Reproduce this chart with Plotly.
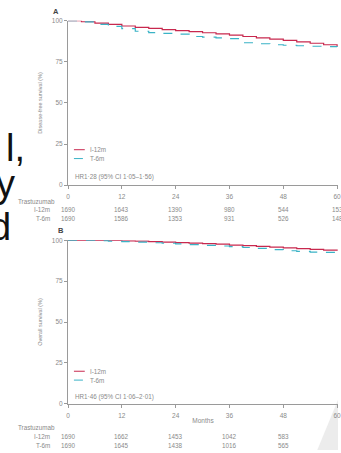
import plotly.graph_objects as go

W, H = 341, 453

# ---------------- data ----------------
# Panel A: disease-free survival (%)
dfs_i12_months = [0, 3, 6, 9, 12, 15, 18, 21, 24, 27, 30, 33, 36, 39, 42, 45, 48, 51, 54, 57, 60]
dfs_i12 = [100, 99.4, 98.6, 97.8, 96.8, 96.0, 95.3, 94.6, 94.0, 93.4, 92.7, 92.0, 91.2, 90.4, 89.6,
           88.8, 88.0, 87.2, 86.3, 85.4, 84.4]
dfs_t6_months = [0, 3, 6, 9, 12, 15, 18, 21, 24, 27, 30, 33, 36, 38, 39, 42, 45, 48, 51, 54, 57, 60]
dfs_t6 = [100, 99.3, 97.8, 96.6, 95.2, 93.6, 92.8, 92.3, 91.8, 90.4, 90.0, 89.6, 89.1, 87.8, 86.6,
          86.0, 85.4, 85.1, 84.8, 84.5, 84.2, 84.0]

# Panel B: overall survival (%)
os_months = [0, 6, 9, 12, 15, 18, 21, 24, 27, 30, 33, 36, 39, 42, 45, 48, 51, 54, 57, 60]
os_i12 = [100, 100, 99.9, 99.7, 99.5, 99.2, 98.9, 98.6, 98.3, 98.0, 97.6, 97.1, 96.7, 96.3, 95.8,
          95.3, 94.9, 94.5, 94.0, 93.6]
os_t6 = [100, 99.8, 99.5, 99.2, 98.9, 98.5, 98.2, 97.8, 97.4, 96.9, 96.5, 96.1, 95.6, 95.0, 94.3,
         93.6, 93.2, 92.8, 92.6, 92.5]

# numbers at risk
dfs_risk_months = [0, 12, 24, 36, 48, 60]
dfs_risk_i12 = ["1690", "1643", "1390", "980", "544", "153"]
dfs_risk_t6 = ["1690", "1586", "1353", "931", "526", "148"]
os_risk_months = [0, 12, 24, 36, 48]
os_risk_i12 = ["1690", "1662", "1453", "1042", "583"]
os_risk_t6 = ["1690", "1645", "1438", "1016", "565"]

series_names = ["I-12m", "T-6m"]
y_ticks = [0, 25, 50, 75, 100]
x_ticks = [0, 12, 24, 36, 48, 60]
hr_texts = ["HR1·28 (95% CI 1·05–1·56)", "HR1·46 (95% CI 1·06–2·01)"]
ytitles = ["Disease-free survival (%)", "Overall survival (%)"]

# ---------------- styling ----------------
RED = "#c8284e"
TEAL = "#3ab3c6"
GREY = "#8a8a8a"
FONT = "Liberation Sans"


def px(x):
    return x / W


def py(y):
    return 1 - y / H


fig = go.Figure()

fig.add_trace(go.Scatter(x=dfs_i12_months, y=dfs_i12, mode="lines", line_shape="hv",
                         line=dict(color=RED, width=1.2), xaxis="x", yaxis="y", name=series_names[0]))
fig.add_trace(go.Scatter(x=dfs_t6_months, y=dfs_t6, mode="lines", line_shape="hv",
                         line=dict(color=TEAL, width=1.2, dash="dash"), xaxis="x", yaxis="y",
                         name=series_names[1]))
fig.add_trace(go.Scatter(x=os_months, y=os_i12, mode="lines", line_shape="hv",
                         line=dict(color=RED, width=1.2), xaxis="x2", yaxis="y2", name=series_names[0]))
fig.add_trace(go.Scatter(x=os_months, y=os_t6, mode="lines", line_shape="hv",
                         line=dict(color=TEAL, width=1.2, dash="dash"), xaxis="x2", yaxis="y2",
                         name=series_names[1]))

axis_common = dict(showline=True, linecolor="#9a9a9a", linewidth=1, showgrid=False, zeroline=False,
                   ticks="outside", ticklen=3, tickcolor="#9a9a9a", tickwidth=1,
                   tickfont=dict(family=FONT, size=6.5, color=GREY))

xdom = [px(67), 1.0]
fig.update_layout(
    width=W, height=H,
    margin=dict(l=0, r=0, t=0, b=0),
    paper_bgcolor="white", plot_bgcolor="white",
    showlegend=False,
    xaxis=dict(domain=xdom, range=[0, 60.2], tickvals=x_ticks, anchor="y",
               ticklabeloverflow="allow", ticklabelstandoff=2, **axis_common),
    yaxis=dict(domain=[py(184), py(17)], range=[0, 100], tickvals=y_ticks, anchor="x",
               title=dict(text=ytitles[0], font=dict(family=FONT, size=5.5, color=GREY), standoff=8),
               **axis_common),
    xaxis2=dict(domain=xdom, range=[0, 60.2], tickvals=x_ticks, anchor="y2",
                ticklabeloverflow="allow", ticklabelstandoff=2,
                title=dict(text="Months", font=dict(family=FONT, size=6.5, color=GREY), standoff=0),
                **axis_common),
    yaxis2=dict(domain=[py(406), py(240)], range=[0, 100], tickvals=y_ticks, anchor="x2",
                title=dict(text=ytitles[1], font=dict(family=FONT, size=5.5, color=GREY), standoff=8),
                **axis_common),
)

ann = []
shapes = []
small = dict(family=FONT, size=6.3, color=GREY)

# panel letters
ann.append(dict(text="<b>A</b>", x=px(55), y=py(8), xref="paper", yref="paper", showarrow=False,
                xanchor="center", yanchor="middle", font=dict(family=FONT, size=7.5, color="#444")))
ann.append(dict(text="<b>B</b>", x=px(60), y=py(230), xref="paper", yref="paper", showarrow=False,
                xanchor="center", yanchor="middle", font=dict(family=FONT, size=7.5, color="#444")))

panels = [
    dict(xr="x", yr="y", leg_y=[148, 157], hr_y=176, rows=[201, 209, 218],
         rm=dfs_risk_months, r1=dfs_risk_i12, r2=dfs_risk_t6, hr=hr_texts[0]),
    dict(xr="x2", yr="y2", leg_y=[373, 382], hr_y=399, rows=[430, 439, 448],
         rm=os_risk_months, r1=os_risk_i12, r2=os_risk_t6, hr=hr_texts[1]),
]

for p in panels:
    # legend (manual, compact)
    for name, col, dash, ly in zip(series_names, [RED, TEAL], ["solid", "dash"], p["leg_y"]):
        shapes.append(dict(type="line", xref="paper", yref="paper", x0=px(73), x1=px(84),
                           y0=py(ly), y1=py(ly), line=dict(color=col, width=1, dash=dash)))
        ann.append(dict(text=name, x=px(87), y=py(ly), xref="paper", yref="paper", showarrow=False,
                        xanchor="left", yanchor="middle", font=small))
    ann.append(dict(text=p["hr"], x=px(72), y=py(p["hr_y"]), xref="paper", yref="paper",
                    showarrow=False, xanchor="left", yanchor="middle", font=small))
    # numbers at risk
    ann.append(dict(text="Trastuzumab", x=px(14), y=py(p["rows"][0]), xref="paper", yref="paper",
                    showarrow=False, xanchor="left", yanchor="middle", font=small))
    for name, vals, ry in zip(series_names, [p["r1"], p["r2"]], p["rows"][1:]):
        ann.append(dict(text=name, x=px(51), y=py(ry), xref="paper", yref="paper", showarrow=False,
                        xanchor="right", yanchor="middle", font=small))
        for m, v in zip(p["rm"], vals):
            ann.append(dict(text=v, x=m, y=py(ry), xref=p["xr"], yref="paper", showarrow=False,
                            xanchor="center", yanchor="middle", font=small))

# slide text fragments at the left edge
big = dict(family=FONT, size=38, color="#111111")
ann.append(dict(text="l,", x=px(2), y=py(146), xref="paper", yref="paper", showarrow=False,
                xanchor="left", yanchor="middle", font=big))
ann.append(dict(text="y", x=px(-8), y=py(183), xref="paper", yref="paper", showarrow=False,
                xanchor="left", yanchor="middle", font=big))
ann.append(dict(text="d", x=px(-14), y=py(226), xref="paper", yref="paper", showarrow=False,
                xanchor="left", yanchor="middle", font=big))

# slide decoration at bottom-right
shapes.append(dict(type="path", xref="paper", yref="paper",
                   path=f"M {px(320)},{py(453)} L {px(341)},{py(402)} L {px(341)},{py(453)} Z",
                   fillcolor="#ececec", line=dict(width=0), layer="below"))

fig.update_layout(annotations=ann, shapes=shapes)
fig.write_html(
    "out.html",
    config={"displayModeBar": False},
    post_script="document.body.style.margin='0';document.body.style.overflow='hidden';",
)
